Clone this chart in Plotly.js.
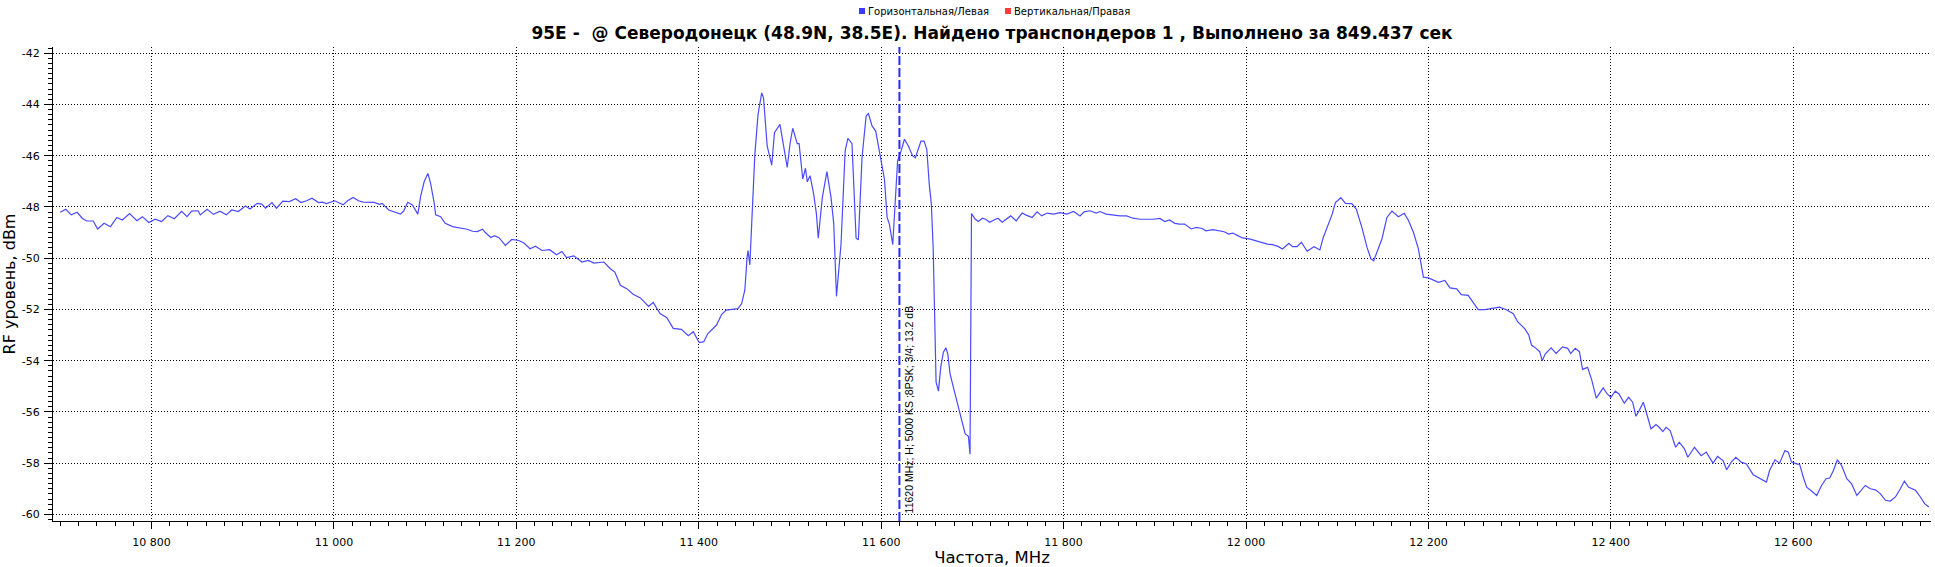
<!DOCTYPE html>
<html>
<head>
<meta charset="utf-8">
<script src="https://cdn.plot.ly/plotly-3.0.1.min.js"></script>
<style>html,body{margin:0;padding:0;background:#fff;}#chart{width:1935px;height:567px;}</style>
</head>
<body>
<div id="chart"></div>
<script>
// ---- data ----
const chartTitle = "95E -  @ Северодонецк (48.9N, 38.5E). Найдено транспондеров 1 , Выполнено за 849.437 сек";
const xAxisTitle = "Частота, MHz";
const yAxisTitle = "RF уровень, dBm";
const seriesNames = ["Горизонтальная/Левая", "Вертикальная/Правая"];
const seriesColors = ["#3b3bff", "#ff3b3b"];

const freqMHz = [
10700,10706,10712,10718.5,10724,10729,10736,10741,10748,10755,10762,10768,10776,10784,10790,10797,10804,10811,10818,10825,10833,10839,10844,10851,10853.5,10861,10868,10875,10882,10888,10895,10903,10908,10916,10921,10925,10932,10937,10944,10951,10958,10964,10970,10976,10983,10987,10992,11001,11010,11015,11021,11027,11032,11039,11044,11050,11053,11060,11066,11073,11076.5,11081,11086,11092,11095,11099,11103,11106,11110,11111.5,11117,11122,11130,11136,11141,11146,11152,11157,11163,11166,11172,11176,11181,
11188,11195,11202.5,11208,11215,11221,11228,11236.5,11244,11250,11255,11263,11272,11279,11285,11296,11303,11308,11314,11321,11328,11336,11345,11350,11357.5,11365,11372,11381,11388.5,11394,11400.5,11405.5,11410,11419.5,11425,11430,11438,11443,11447,11450.5,11453,11454,11456,11459,11461.5,11465,11469,11471,11475,11480,11483,11489,11492,11497,11500,11503,11508,11510,11514,11517,11519,11522,11526,11529,11531,11535.5,11540.5,11545,11548,11551,11556,11560.5,11563.5,11568,11572.5,11575,11579,11583.5,11586,11590,11594,11598,
11603.6,11606.5,11609,11612.7,11616.4,11618,11621.8,11625.5,11629.8,11634.5,11637.5,11640.7,11643.6,11647,11650,11652.7,11655,11657,
11659,11660.2,11662.8,11665.3,11668.2,11671,11673,11675.5,11680,11683.6,11686.5,11690,11692,11695.6,11697.4,
11699,11703,11706.5,11711,11714.5,11719,11723.6,11728,11732.7,11738,11742,11748,11754.5,11759,11765.5,11771,11776,11782,11789,11796,11803.6,11811,11818,11822.5,11829,11835.6,11840,11846.5,11854.5,11862,11869,11876,11883.6,11891,11898,11905.5,11911,11916,11922,11927,11932.7,11940,11945.5,11952,11956,11963.6,11971,11976,11981,11985.5,11991,11996,12003.6,12011,12016,12023.6,12029,12035,
12040,12047,12051,12056,12060.7,12067,12074.5,12081,12084.7,12090,12094.5,12098,12104,12109,12116,12121,12127,12132.7,12137,12140,12143.6,12149,12154.5,12160,12167,12173.5,12178,12183.6,12189,12194.5,12200,12205.5,12211,12218,12223.6,12231,12236,12243.6,12249,12254.5,12262,12271,12278,12285.5,12293,12298,12305.5,12310,12313,12318,12322,12324.7,12328,12334.5,12340,12347,12352.7,12356,12361,12365.5,12369,12374.5,12379,12384,
12391.6,12396,12400,12404.8,12409,12414.7,12419.5,12423.9,12427.5,12431,12435.6,12440.4,12444,12449.5,12453,12457,12460.5,12465,12471,12475,12480.7,12484.4,12491.7,12499,12504.6,12512,12517,12523,12527,12532,12537,12543,12548.6,12556,12563,12570.6,12574,12580,12585,12590.8,12594.5,12598,12603.7,12607,12611,12614.7,12620,12625.7,12631,12636,12640,12644,12648.4,12653,12658.7,12664,12669.7,12675,12679,12684.4,12690,12695.4,12701,12706.4,12712,12717.4,12721.8,12726.6,12734,12739.4,12744,12748.6
];
const levelDbm = [
-48.21,-48.09,-48.31,-48.21,-48.44,-48.55,-48.55,-48.86,-48.64,-48.77,-48.41,-48.51,-48.26,-48.54,-48.38,-48.61,-48.48,-48.57,-48.34,-48.46,-48.17,-48.38,-48.16,-48.15,-48.31,-48.09,-48.29,-48.17,-48.31,-48.12,-48.18,-47.96,-48.08,-47.86,-47.89,-48.05,-47.83,-48.05,-47.77,-47.79,-47.68,-47.83,-47.76,-47.66,-47.83,-47.81,-47.87,-47.76,-47.92,-47.76,-47.63,-47.76,-47.81,-47.82,-47.82,-47.90,-47.86,-48.12,-48.18,-48.28,-48.16,-47.82,-47.92,-48.28,-47.60,-47.01,-46.69,-47.08,-47.86,-48.31,-48.38,-48.64,-48.77,-48.81,-48.85,-48.87,-48.95,-48.96,-48.87,-49.00,-49.19,-49.12,-49.20,
-49.50,-49.27,-49.31,-49.40,-49.63,-49.53,-49.70,-49.67,-49.87,-49.74,-49.98,-49.91,-50.15,-50.09,-50.19,-50.15,-50.41,-50.54,-51.06,-51.19,-51.41,-51.55,-51.88,-51.73,-52.16,-52.32,-52.74,-52.78,-53.03,-52.87,-53.29,-53.26,-52.94,-52.61,-52.20,-52.03,-52.01,-51.97,-51.77,-51.25,-49.96,-49.70,-50.26,-47.89,-45.94,-44.39,-43.55,-43.74,-45.62,-46.37,-45.10,-44.78,-45.42,-46.46,-45.55,-44.93,-45.53,-45.53,-46.91,-46.49,-47.02,-46.78,-47.50,-48.27,-49.22,-47.63,-46.62,-47.63,-48.66,-51.49,-49.44,-45.81,-45.32,-45.53,-49.22,-49.28,-46.07,-44.45,-44.36,-44.84,-45.04,-45.81,
-46.92,-48.41,-48.67,-49.47,-47.05,-46.20,-45.82,-45.36,-45.62,-46.01,-46.08,-45.69,-45.43,-45.43,-45.75,-47.11,-47.89,-49.60,
-52.30,-54.84,-55.19,-54.25,-53.67,-53.50,-53.73,-54.51,-55.16,-55.68,-56.07,-56.59,-56.85,-56.95,-57.65,
-48.26,-48.47,-48.57,-48.44,-48.48,-48.60,-48.51,-48.44,-48.60,-48.44,-48.35,-48.54,-48.24,-48.32,-48.41,-48.19,-48.35,-48.24,-48.28,-48.22,-48.28,-48.18,-48.35,-48.19,-48.15,-48.24,-48.18,-48.28,-48.32,-48.35,-48.35,-48.44,-48.48,-48.48,-48.48,-48.45,-48.57,-48.51,-48.64,-48.67,-48.67,-48.86,-48.80,-48.84,-48.93,-48.89,-48.93,-48.97,-49.06,-49.02,-49.12,-49.21,-49.25,-49.32,-49.38,-49.45,-49.47,-49.54,
-49.64,-49.42,-49.55,-49.55,-49.38,-49.73,-49.55,-49.68,-49.19,-48.67,-48.28,-47.83,-47.64,-47.86,-47.87,-48.09,-48.80,-49.58,-50.03,-50.10,-49.77,-49.25,-48.41,-48.16,-48.38,-48.25,-48.52,-49.00,-49.64,-50.74,-50.77,-50.87,-50.94,-50.87,-51.16,-51.20,-51.42,-51.45,-51.71,-52.01,-52.01,-51.97,-51.91,-52.01,-52.17,-52.49,-52.75,-53.00,-53.39,-53.52,-53.65,-54.00,-53.74,-53.50,-53.72,-53.46,-53.52,-53.72,-53.52,-53.65,-54.34,-54.26,-54.75,-55.46,
-55.06,-55.30,-55.43,-55.19,-55.30,-55.66,-55.43,-55.62,-56.17,-55.95,-55.62,-56.21,-56.66,-56.49,-56.60,-56.77,-56.60,-56.73,-57.38,-57.18,-57.44,-57.77,-57.38,-57.71,-57.57,-58.00,-57.74,-57.90,-58.26,-57.96,-57.77,-57.96,-58.03,-58.45,-58.58,-58.74,-58.29,-57.87,-58.00,-57.51,-57.57,-57.96,-58.03,-58.05,-58.55,-58.94,-59.09,-59.26,-58.87,-58.61,-58.58,-58.29,-57.87,-58.09,-58.61,-58.81,-59.26,-59.06,-58.87,-59.00,-59.04,-59.19,-59.45,-59.48,-59.32,-59.00,-58.70,-58.94,-59.06,-59.32,-59.58,-59.71
];

const transponderFreq = 11620;
const transponderLabel = "11620 MHz; H; 5000 KS ;8PSK; 3/4; 13.2 dB";

const xTickVals = [10800, 11000, 11200, 11400, 11600, 11800, 12000, 12200, 12400, 12600];
const xTickText = ["10 800", "11 000", "11 200", "11 400", "11 600", "11 800", "12 000", "12 200", "12 400", "12 600"];
const yTickVals = [-60, -58, -56, -54, -52, -50, -48, -46, -44, -42];
const yTickText = ["-60", "-58", "-56", "-54", "-52", "-50", "-48", "-46", "-44", "-42"];

// ---- layout geometry ----
const W = 1935, H = 567;
const M = {l: 53, r: 4, t: 47, b: 46};
const pw = W - M.l - M.r, ph = H - M.t - M.b;
const px2x = p => (p - M.l) / pw;
const px2y = p => (H - M.b - p) / ph;

const tickFont = {family: "DejaVu Sans", size: 11, color: "#000"};

const traces = [{
  type: "scatter",
  mode: "lines",
  x: freqMHz,
  y: levelDbm,
  name: seriesNames[0],
  line: {color: "#4a4aff", width: 1.2},
  showlegend: false,
  hoverinfo: "x+y"
}];

const shapes = [
  {type: "line", xref: "x", yref: "paper", x0: transponderFreq, x1: transponderFreq, y0: 0, y1: 1,
   line: {color: "#2b2bff", width: 2, dash: "9px,3px"}},
  {type: "rect", xref: "paper", yref: "paper", x0: px2x(859), x1: px2x(865), y0: px2y(14), y1: px2y(8),
   fillcolor: seriesColors[0], line: {width: 0}},
  {type: "rect", xref: "paper", yref: "paper", x0: px2x(1005), x1: px2x(1011), y0: px2y(14), y1: px2y(8),
   fillcolor: seriesColors[1], line: {width: 0}}
];

const annotations = [
  {xref: "x", yref: "paper", x: transponderFreq, y: 0, xanchor: "center", yanchor: "bottom",
   xshift: 10, yshift: 6, textangle: -90, showarrow: false, text: transponderLabel,
   font: {family: "Liberation Sans", size: 10.5, color: "#000"}},
  {xref: "paper", yref: "paper", x: px2x(866), y: px2y(11), xanchor: "left", yanchor: "middle",
   showarrow: false, text: seriesNames[0], font: {family: "DejaVu Sans", size: 10, color: "#000"}},
  {xref: "paper", yref: "paper", x: px2x(1012), y: px2y(11), xanchor: "left", yanchor: "middle",
   showarrow: false, text: seriesNames[1], font: {family: "DejaVu Sans", size: 10, color: "#000"}}
];

const gridStyle = {showgrid: true, gridcolor: "#000", gridwidth: 1, griddash: "1px,2px"};

const layout = {
  width: W, height: H,
  margin: M,
  paper_bgcolor: "#fff",
  plot_bgcolor: "#fff",
  showlegend: false,
  title: {
    text: "<b>" + chartTitle + "</b>",
    font: {family: "DejaVu Sans", size: 17, color: "#000"},
    x: 0.5, xref: "paper", xanchor: "center",
    y: 1 - 33 / H, yref: "container", yanchor: "middle"
  },
  xaxis: Object.assign({
    range: [10692, 12751],
    tickmode: "array", tickvals: xTickVals, ticktext: xTickText,
    ticks: "outside", ticklen: 7, tickwidth: 1, tickcolor: "#000",
    ticklabelstandoff: 4,
    showline: true, linecolor: "#000", linewidth: 1,
    zeroline: false, tickfont: tickFont,
    minor: {tickmode: "linear", tick0: 10700, dtick: 20, ticks: "outside", ticklen: 4, tickcolor: "#000", showgrid: false},
    title: {text: xAxisTitle, font: {family: "DejaVu Sans", size: 16.5, color: "#000"}, standoff: 5}
  }, gridStyle),
  yaxis: Object.assign({
    range: [-60.258, -41.758],
    tickmode: "array", tickvals: yTickVals, ticktext: yTickText,
    ticks: "outside", ticklen: 8, tickwidth: 1, tickcolor: "#000",
    ticklabelstandoff: 2,
    showline: true, linecolor: "#000", linewidth: 1,
    zeroline: false, tickfont: tickFont,
    minor: {tickmode: "linear", tick0: -60, dtick: 0.2, ticks: "outside", ticklen: 4, tickcolor: "#000", showgrid: false},
    title: {text: yAxisTitle, font: {family: "DejaVu Sans", size: 16, color: "#000"}, standoff: 3}
  }, gridStyle),
  shapes: shapes,
  annotations: annotations
};

Plotly.newPlot("chart", traces, layout, {displayModeBar: false, staticPlot: true});
</script>
</body>
</html>
